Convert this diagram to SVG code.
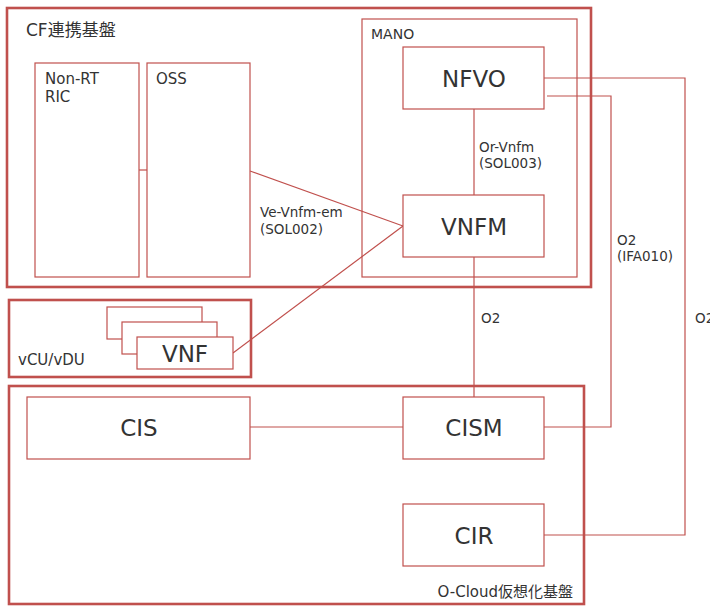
<svg xmlns="http://www.w3.org/2000/svg" width="710" height="607" viewBox="0 0 710 607">
<style>
.big{fill:none;stroke:#c0504d;stroke-width:2.6}
.box{fill:#fff;stroke:#c0504d;stroke-width:1.2}
.ln{fill:none;stroke:#c0504d;stroke-width:1.2}
text{font-family:"DejaVu Sans",Verdana,sans-serif;fill:#333}
.t13{font-size:13.5px}
.t15{font-size:15px}
.lg{font-size:23px;text-anchor:middle}
</style>
<rect width="710" height="607" fill="#fff"/>
<g id="cf">
<rect class="big" x="7" y="8" width="584" height="279"/>
<text x="26" y="36" style="font-family:'DejaVu Sans','Noto Sans CJK JP',sans-serif;font-size:17px">CF連携基盤</text>
</g>
<g id="vcu">
<rect class="big" x="9" y="300" width="242" height="77"/>
<text class="t15" x="18" y="365">vCU/vDU</text>
</g>
<g id="ocloud">
<rect class="big" x="9" y="386" width="575" height="218"/>
<text class="t15" x="573" y="597" text-anchor="end" style="font-family:'DejaVu Sans','Noto Sans CJK JP',sans-serif">O-Cloud仮想化基盤</text>
</g>
<g id="mano">
<rect class="box" x="362" y="19" width="215" height="258" fill="none"/>
<text class="t13" x="371" y="39" style="font-size:14px">MANO</text>
</g>
<g id="connectors">
<line class="ln" x1="139" y1="170" x2="147" y2="170"/>
<line class="ln" x1="250" y1="171" x2="403" y2="226"/>
<line class="ln" x1="233" y1="353" x2="403" y2="226"/>
<line class="ln" x1="474" y1="109" x2="474" y2="195"/>
<line class="ln" x1="474" y1="257" x2="474" y2="397"/>
<polyline class="ln" points="544,78 685,78 685,535 544,535"/>
<polyline class="ln" points="547,96 611,96 611,427 544,427"/>
<line class="ln" x1="250" y1="427" x2="403" y2="427"/>
</g>
<g id="labels">
<text class="t13" x="260" y="217">Ve-Vnfm-em</text>
<text class="t13" x="260" y="234">(SOL002)</text>
<text class="t13" x="479" y="152">Or-Vnfm</text>
<text class="t13" x="479" y="168">(SOL003)</text>
<text class="t13" x="617" y="245">O2</text>
<text class="t13" x="617" y="261">(IFA010)</text>
<text class="t13" x="481" y="323">O2</text>
<text class="t13" x="695" y="323">O2</text>
</g>
<g id="nonrt">
<rect class="box" x="35" y="63" width="104" height="214"/>
<text class="t15" x="45" y="84">Non-RT</text>
<text class="t15" x="45" y="102">RIC</text>
</g>
<g id="oss">
<rect class="box" x="147" y="63" width="103" height="214"/>
<text class="t15" x="156" y="84">OSS</text>
</g>
<g id="nfvo">
<rect class="box" x="403" y="47" width="141" height="62"/>
<text class="lg" x="474" y="87">NFVO</text>
</g>
<g id="vnfm">
<rect class="box" x="403" y="195" width="141" height="62"/>
<text class="lg" x="474" y="235">VNFM</text>
</g>
<g id="vnf">
<rect class="box" x="107" y="307" width="95" height="32"/>
<rect class="box" x="122" y="322" width="95" height="32"/>
<rect class="box" x="137" y="337" width="96" height="32"/>
<text class="lg" x="185" y="362">VNF</text>
</g>
<g id="cis">
<rect class="box" x="27" y="397" width="223" height="62"/>
<text class="lg" x="139" y="436">CIS</text>
</g>
<g id="cism">
<rect class="box" x="403" y="397" width="141" height="62"/>
<text class="lg" x="474" y="436">CISM</text>
</g>
<g id="cir">
<rect class="box" x="403" y="504" width="141" height="62"/>
<text class="lg" x="474" y="544">CIR</text>
</g>
</svg>
